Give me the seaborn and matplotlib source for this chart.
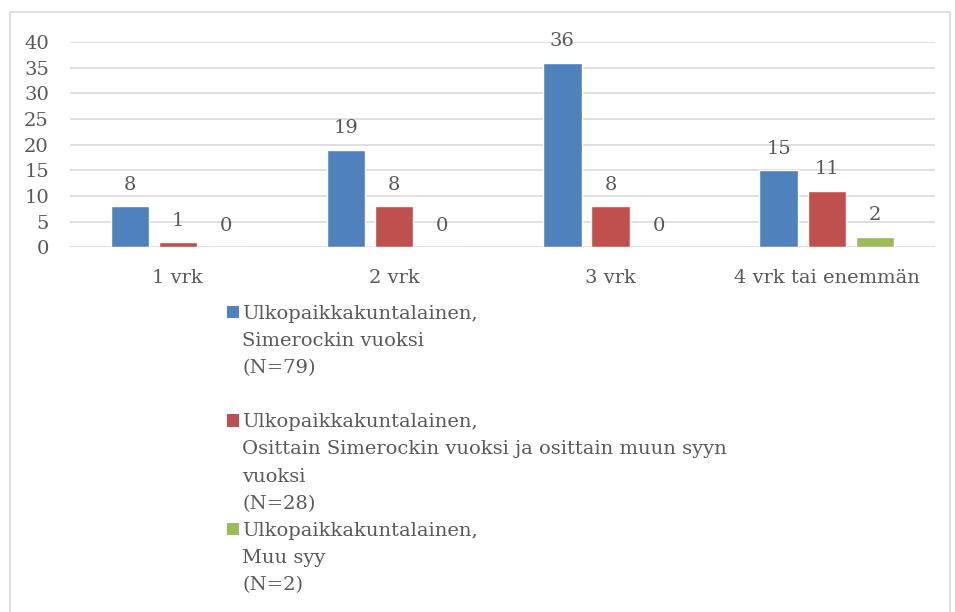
import pandas as pd
import numpy as np
import matplotlib
matplotlib.use("Agg")
import matplotlib.pyplot as plt
from matplotlib.patches import Patch, Rectangle
import seaborn as sns

# data
categories = ["1 vrk", "2 vrk", "3 vrk", "4 vrk tai enemmän"]
series_names = ["Simerockin vuoksi", "Osittain", "Muu syy"]
simerock_vals = [8, 19, 36, 15]
osittain_vals = [1, 8, 8, 11]
muu_vals = [0, 0, 0, 2]
colors = ["#4F81BD", "#C0504D", "#9BBB59"]

legend_lines = [
    ["Ulkopaikkakuntalainen,", "Simerockin vuoksi", "(N=79)", ""],
    ["Ulkopaikkakuntalainen,", "Osittain Simerockin vuoksi ja osittain muun syyn", "vuoksi", "(N=28)"],
    ["Ulkopaikkakuntalainen,", "Muu syy", "(N=2)"],
]

rows = []
for name, vals in zip(series_names, [simerock_vals, osittain_vals, muu_vals]):
    for c, v in zip(categories, vals):
        rows.append({"kesto": c, "n": v, "ryhma": name})
df = pd.DataFrame(rows)

sns.set_style("white")
plt.rcParams["font.family"] = ["DejaVu Serif"]
text_col = "#595959"
grid_col = "#D9D9D9"
fs = 14

fig = plt.figure(figsize=(9.55, 6.12), dpi=100)
ax = fig.add_axes([0.073, 0.596, 0.906, 0.335])

sns.barplot(data=df, x="kesto", y="n", hue="ryhma", palette=colors,
            width=0.667, gap=0.2, ax=ax, legend=False, saturation=1)

for cont in ax.containers:
    ax.bar_label(cont, fmt="%g", padding=9, fontsize=fs, color=text_col)

ax.set_ylim(0, 40)
ax.set_yticks(np.arange(0, 41, 5))
ax.yaxis.grid(True, color=grid_col, linewidth=1.2)
ax.set_axisbelow(True)
for s in ax.spines.values():
    s.set_visible(False)
ax.tick_params(axis="both", length=0, labelsize=fs, labelcolor=text_col)
ax.tick_params(axis="x", pad=16)
ax.tick_params(axis="y", pad=15)
ax.set_xlabel("")
ax.set_ylabel("")

# legend, one row per line of text
handles, labels = [], []
for col, lines in zip(colors, legend_lines):
    for i, line in enumerate(lines):
        if i == 0:
            handles.append(Patch(facecolor=col, edgecolor="none"))
        else:
            handles.append(Patch(facecolor="none", edgecolor="none"))
        labels.append(line)
fig.legend(handles, labels, loc="upper left", bbox_to_anchor=(0.2275, 0.518),
           frameon=False, fontsize=fs, labelcolor=text_col,
           handlelength=0.62, handleheight=0.62, handletextpad=0.16,
           labelspacing=0.47, borderpad=0)

# chart border
fig.add_artist(Rectangle((0.0105, -0.01), 0.984, 0.99, transform=fig.transFigure,
                         fill=False, edgecolor=grid_col, linewidth=1.2))

fig.savefig("out.png", dpi=100)
